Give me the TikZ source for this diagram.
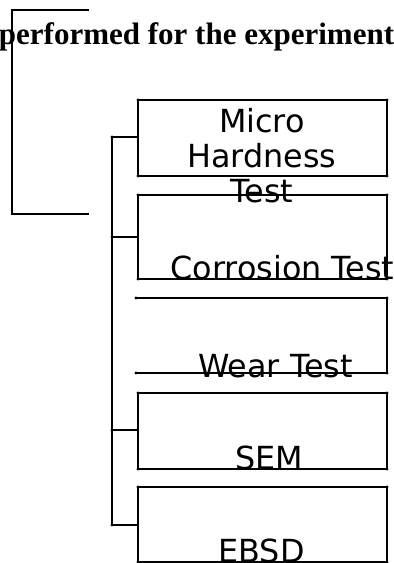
\documentclass[tikz,border=0pt]{standalone}
\usepackage{fontspec}
\setmainfont{DejaVu Sans}
\newfontfamily\titlefont{Liberation Serif}
\tikzset{
  ln/.style={line width=2pt, line cap=butt, line join=miter},
  lbl/.style={font=\fontsize{31.8pt}{35pt}\selectfont, inner sep=0pt, anchor=base, align=center},
  ttl/.style={font=\titlefont\bfseries\fontsize{31pt}{36pt}\selectfont, inner sep=0pt, anchor=base},
  dot/.style={fill=black, draw=none},
}
\begin{document}
\begin{tikzpicture}[x=1pt,y=-1pt]
\clip (0,0) rectangle (394,563);
\fill[white] (0,0) rectangle (394,563);
% title and bracket
\node[ttl] (title) at (196.5,44) {performed for the experiment};
\coordinate (bt) at (89,10);
\coordinate (bb) at (89,214);
\draw[ln] (bt) -- (12,10) -- (12,214) -- (bb);
% boxes
\coordinate (b1nw) at (138,100); \coordinate (b1se) at (387,176);
\coordinate (b2nw) at (138,195); \coordinate (b2se) at (387,279);
\coordinate (b4nw) at (138,393); \coordinate (b4se) at (387,469);
\coordinate (b5nw) at (138,487); \coordinate (b5se) at (387,562);
\draw[ln] (b1nw) rectangle (b1se);
\draw[ln] (b2nw) rectangle (b2se);
\draw[ln] (136,298) -- (387,298) -- (387,373) -- (136,373);
\draw[ln] (b4nw) rectangle (b4se);
\draw[ln] (b5nw) rectangle (b5se);
% connectors
\coordinate (t1) at (112,137);
\coordinate (t2) at (112,237);
\coordinate (t4) at (112,430);
\coordinate (t5) at (112,525);
\coordinate (b1w) at (138,137);
\coordinate (b2w) at (138,237);
\coordinate (b4w) at (138,430);
\coordinate (b5w) at (138,525);
\draw[ln] (t1) -- (t5);
\draw[ln] (t1) -- (b1w);
\draw[ln] (t2) -- (b2w);
\draw[ln] (t4) -- (b4w);
\draw[ln] (t5) -- (b5w);
% corner dots
\foreach \p in {(138,100),(387,100),(138,176),(387,176),
                (138,195),(387,195),(138,279),(387,279),
                (136,298),(387,298),(136,373),(387,373),
                (138,393),(387,393),(138,469),(387,469),
                (138,487),(387,487),(138,562),(387,562),
                (112,137),(112,237),(112,430),(112,525)}
  \fill[dot] \p circle (1.6pt);
% labels
\node[lbl] (mht) at (262,202) {Micro\\Hardness\\Test};
\node[lbl] (cor) at (282.5,279) {Corrosion Test};
\node[lbl] (wear) at (275.5,377) {Wear Test};
\node[lbl] (sem) at (269,469) {SEM};
\node[lbl] (ebsd) at (261.5,562) {EBSD};
\end{tikzpicture}
\end{document}
